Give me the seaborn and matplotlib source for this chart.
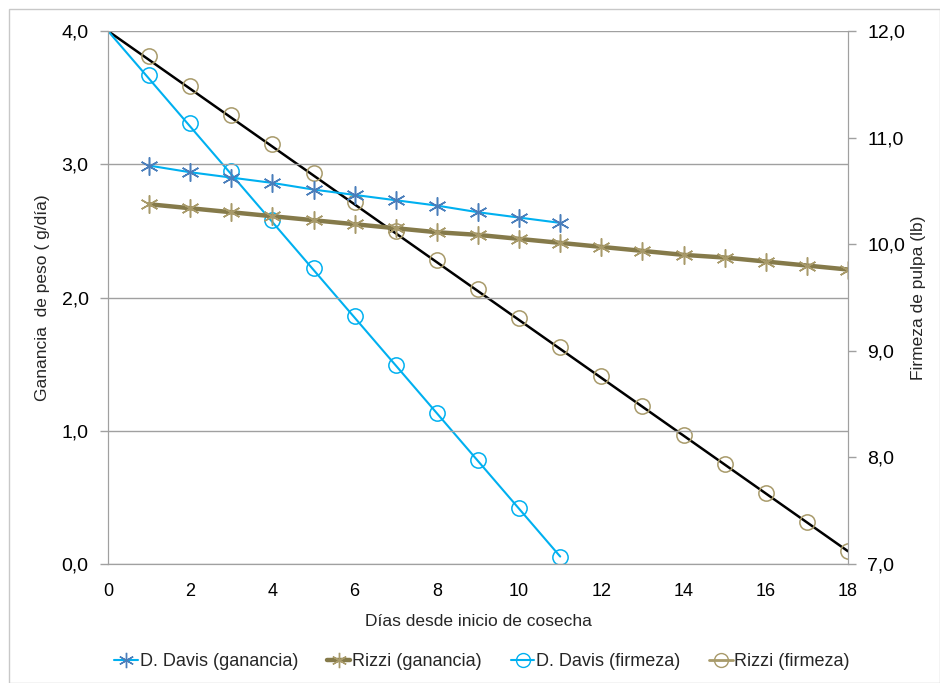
import matplotlib
matplotlib.use("Agg")
import matplotlib.pyplot as plt
import seaborn as sns
import pandas as pd
from matplotlib.ticker import FuncFormatter, MultipleLocator
from matplotlib.lines import Line2D
from matplotlib.patches import Rectangle

sns.set_style("white")
plt.rcParams['font.family'] = ['Liberation Sans Narrow', 'Liberation Sans', 'DejaVu Sans']

# Ganancia de peso (g/dia), eje izquierdo
dias_davis = [1, 2, 3, 4, 5, 6, 7, 8, 9, 10, 11]
davis_ganancia = [2.99, 2.94, 2.90, 2.86, 2.81, 2.77, 2.73, 2.69, 2.64, 2.60, 2.56]
dias_rizzi = [1, 2, 3, 4, 5, 6, 7, 8, 9, 10, 11, 12, 13, 14, 15, 16, 17, 18]
rizzi_ganancia = [2.70, 2.67, 2.64, 2.61, 2.58, 2.55, 2.52, 2.49, 2.47, 2.44,
                  2.41, 2.38, 2.35, 2.32, 2.30, 2.27, 2.24, 2.21]

# Firmeza de pulpa (lb), eje derecho
davis_firmeza = [11.59, 11.14, 10.69, 10.23, 9.78, 9.33, 8.87, 8.42, 7.98, 7.53, 7.07]
rizzi_firmeza = [11.77, 11.48, 11.21, 10.94, 10.67, 10.40, 10.12, 9.85, 9.58, 9.31,
                 9.04, 8.76, 8.48, 8.21, 7.94, 7.67, 7.39, 7.12]
# tendencia lineal desde el dia 0
trend_dias_davis = [0, 11]
trend_davis = [12.0, 7.07]
trend_dias_rizzi = [0, 18]
trend_rizzi = [12.0, 7.12]

c_davis = '#00b0f0'
c_davis_mk = '#4a7ebb'
c_rizzi = '#857a4a'
c_rizzi_light = '#a89a6a'

fig = plt.figure(figsize=(9.4, 6.83), dpi=100)
fig.patches.append(Rectangle((0.0096, 0.0), 0.99, 0.987, transform=fig.transFigure,
                             fill=False, edgecolor='#c8c8c8', linewidth=1))
ax = fig.add_axes([0.1149, 0.1742, 0.7872, 0.7804])
ax2 = ax.twinx()

df_dg = pd.DataFrame({'dia': dias_davis, 'valor': davis_ganancia})
df_rg = pd.DataFrame({'dia': dias_rizzi, 'valor': rizzi_ganancia})
df_df = pd.DataFrame({'dia': dias_davis, 'valor': davis_firmeza})
df_rf = pd.DataFrame({'dia': dias_rizzi, 'valor': rizzi_firmeza})

# firmeza (derecha)
sns.lineplot(x=trend_dias_rizzi, y=trend_rizzi, ax=ax2, color='black', lw=1.8)
sns.lineplot(x=trend_dias_davis, y=trend_davis, ax=ax2, color=c_davis, lw=1.5)
ax2.plot(df_rf['dia'], df_rf['valor'], ls='none', marker='o', ms=11, mfc='none',
         mec=c_rizzi_light, mew=1.1)
ax2.plot(df_df['dia'], df_df['valor'], ls='none', marker='o', ms=11, mfc='none',
         mec=c_davis, mew=1.1)

# ganancia (izquierda)
sns.lineplot(data=df_rg, x='dia', y='valor', ax=ax, color=c_rizzi, lw=3.2)
ax.plot(df_rg['dia'], df_rg['valor'], ls='none', marker=(6, 2, 0), ms=13,
        mec=c_rizzi_light, mew=1.1)
sns.lineplot(data=df_dg, x='dia', y='valor', ax=ax, color=c_davis, lw=1.5)
ax.plot(df_dg['dia'], df_dg['valor'], ls='none', marker=(6, 2, 0), ms=13,
        mec=c_davis_mk, mew=1.1)

ax.set_zorder(ax2.get_zorder() + 1)
ax.patch.set_visible(False)

ax.set_xlim(0, 18)
ax.set_ylim(0, 4)
ax2.set_ylim(7, 12)
ax.xaxis.set_major_locator(MultipleLocator(2))
ax.yaxis.set_major_locator(MultipleLocator(1))
ax2.yaxis.set_major_locator(MultipleLocator(1))
fmt = FuncFormatter(lambda v, p: f"{v:.1f}".replace('.', ','))
ax.yaxis.set_major_formatter(fmt)
ax2.yaxis.set_major_formatter(fmt)

ax.grid(axis='y', color='#a0a0a0', lw=1)
ax.set_axisbelow(True)
for a in (ax, ax2):
    for s in a.spines.values():
        s.set_color('#a0a0a0')
    a.spines['top'].set_visible(False)
    a.tick_params(colors='#a0a0a0', labelcolor='black', labelsize=14, length=6,
                  width=1, direction='out')
ax.tick_params(axis='x', labelsize=13, pad=8)
ax.tick_params(axis='y', pad=8)
ax2.tick_params(axis='y', pad=8)

lab = dict(family=['Liberation Sans', 'DejaVu Sans'], fontsize=12.5)
ax.set_xlabel('Días desde inicio de cosecha', labelpad=10, **lab)
ax.set_ylabel('Ganancia  de peso ( g/día)', labelpad=8, **lab)
ax2.set_ylabel('Firmeza de pulpa (lb)', labelpad=4, **lab)

handles = [
    Line2D([], [], color=c_davis, lw=1.5, marker=(6, 2, 0), ms=11, mec=c_davis_mk),
    Line2D([], [], color=c_rizzi, lw=3.2, marker=(6, 2, 0), ms=11, mec=c_rizzi_light),
    Line2D([], [], color=c_davis, lw=1.5, marker='o', ms=10, mfc='none', mec=c_davis),
    Line2D([], [], color=c_rizzi_light, lw=2, marker='o', ms=10, mfc='none', mec=c_rizzi_light),
]
labels = ['D. Davis (ganancia)', 'Rizzi (ganancia)', 'D. Davis (firmeza)', 'Rizzi (firmeza)']
fig.legend(handles, labels, loc='center', bbox_to_anchor=(0.513, 0.031), ncol=4,
           frameon=False, fontsize=13, handlelength=1.3, handletextpad=0.1,
           columnspacing=1.6)

fig.savefig('out.png', dpi=100)
